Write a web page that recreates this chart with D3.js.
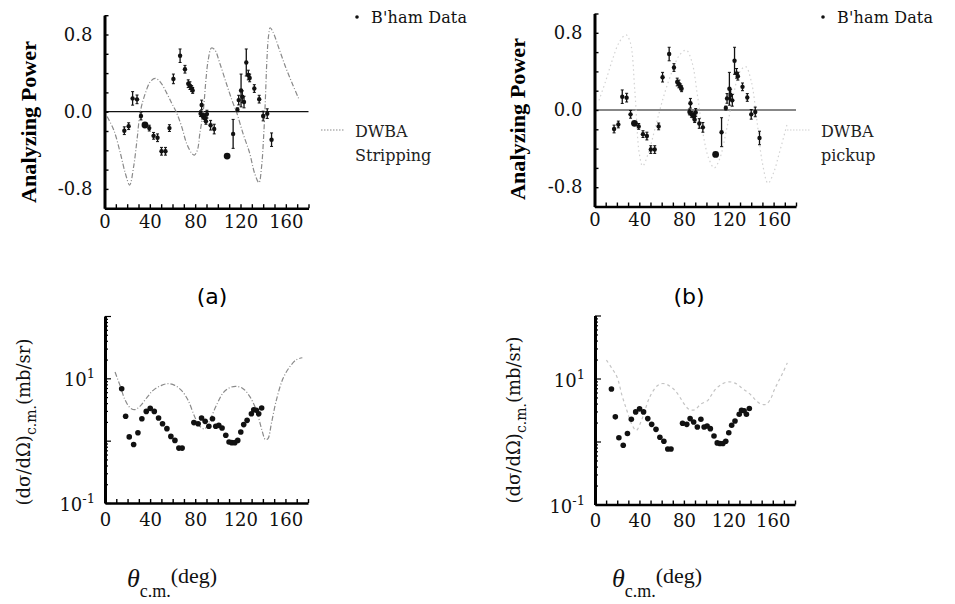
<!DOCTYPE html>
<html>
<head>
<meta charset="utf-8">
<script src="https://cdn.jsdelivr.net/npm/d3@7"></script>
<style>
  body { margin: 0; background: #fff; }
</style>
</head>
<body>
<script>
// B'ham data, analyzing power
const apAngle = [17.5, 21.3, 24.8, 28.7, 32.2, 35.7, 39.5, 43.3, 46.8, 50.3, 53.8, 57.3, 60.8, 66.7, 71.0,
  73.9, 75.4, 76.9, 77.8, 84.8, 85.7, 86.6, 88.0, 88.9, 89.5, 90.4, 93.6, 96.8, 108.2, 113.5,
  117.3, 118.4, 120.5, 121.6, 123.1, 125.1, 126.9, 128.1, 132.2, 136.5, 140.0, 143.6, 147.4];
const apValue = [-0.197, -0.15, 0.138, 0.128, -0.045, -0.138, -0.17, -0.25, -0.27, -0.41, -0.41, -0.17, 0.34, 0.58, 0.44,
  0.29, 0.27, 0.24, 0.22, -0.02, 0.07, -0.045, -0.05, -0.07, -0.10, -0.025, -0.14, -0.18, -0.46, -0.23,
  0.02, 0.12, 0.22, 0.155, 0.10, 0.51, 0.38, 0.35, 0.24, 0.13, -0.045, -0.02, -0.29];
const apError = [0.04, 0.035, 0.07, 0.045, 0.04, 0, 0.03, 0.035, 0.04, 0.04, 0.04, 0.035, 0.05, 0.07, 0.04,
  0.04, 0.04, 0.03, 0.03, 0.03, 0.05, 0.03, 0.03, 0.03, 0.03, 0.04, 0.05, 0.05, 0, 0.15,
  0.02, 0.05, 0.17, 0.06, 0.06, 0.14, 0.05, 0.04, 0.04, 0.04, 0.05, 0.05, 0.07];

// B'ham data, cross section (mb/sr)
const xsAngle = [14.8, 18.3, 21.5, 25.4, 29.2, 32.7, 36.6, 40.1, 43.7, 47.5, 51.0, 54.9, 58.4, 62.0, 65.5, 68.4,
  78.8, 82.6, 85.6, 88.8, 92.1, 95.3, 98.2, 100.9, 103.8, 107.1, 110.0, 112.4, 115.1, 117.7, 120.4,
  123.0, 126.0, 129.8, 131.9, 134.2, 136.3, 138.9];
const xsValue = [6.8, 2.46, 1.15, 0.87, 1.34, 2.25, 2.95, 3.3, 2.95, 2.31, 1.87, 1.56, 1.17, 1.01, 0.76, 0.76,
  1.95, 1.87, 2.31, 2.04, 1.70, 2.25, 1.70, 1.76, 1.60, 1.22, 0.95, 0.93, 0.93, 1.01, 1.38,
  1.81, 2.12, 2.71, 3.14, 3.07, 2.71, 3.34];

// DWBA stripping, analyzing power
const stripApAngle = [2.3, 8.2, 14.0, 18.4, 22.2, 25.7, 28.7, 31.6, 36.0, 40.4, 44.7, 49.1, 55.0, 59.4, 63.2,
  68.1, 72.5, 76.9, 79.2, 81.9, 84.2, 87.1, 89.5, 91.5, 94.4, 97.4, 101.8, 107.6, 113.5, 116.4,
  122.2, 128.1, 132.5, 136.3, 138.6, 140.4, 141.8, 143.3, 144.7, 146.2, 148.5, 154.4, 160.2, 166.1, 171.9];
const stripApValue = [-0.05, -0.19, -0.43, -0.64, -0.76, -0.57, -0.29, 0, 0.19, 0.31, 0.345, 0.31, 0.19, 0.086, 0,
  -0.155, -0.33, -0.43, -0.45, -0.40, -0.22, 0, 0.33, 0.535, 0.66, 0.64, 0.50, 0.29, 0.086, 0,
  -0.225, -0.43, -0.64, -0.735, -0.57, -0.26, 0.086, 0.535, 0.78, 0.87, 0.83, 0.64, 0.45, 0.28, 0.12];

// DWBA pickup, analyzing power
const pickApAngle = [4, 10, 16, 22, 28, 32, 36, 40, 43, 48, 55, 62, 70, 76, 82, 87, 92, 97, 102, 107,
  112, 118, 124, 130, 135, 140, 145, 150, 155, 160, 165, 172];
const pickApValue = [0.10, 0.30, 0.52, 0.70, 0.78, 0.70, 0.2, -0.45, -0.58, -0.45, -0.15, 0.15, 0.42, 0.57, 0.62, 0.50, 0.15, -0.25, -0.5, -0.6,
  -0.5, -0.2, 0.15, 0.4, 0.45, 0.3, -0.1, -0.55, -0.76, -0.65, -0.45, -0.15];

// DWBA stripping, cross section
const stripXsAngle = [8.9, 13.3, 17.7, 22.1, 26.5, 30.9, 36.8, 42.7, 50.1, 56.0, 61.9, 67.8, 73.7, 79.6, 84.1, 88.5,
  92.9, 98.8, 104.7, 110.6, 116.5, 122.4, 128.3, 134.2, 139.2, 142.2, 144.5, 147.5, 151.9, 157.8, 163.7, 169.7, 175.0];
const stripXsValue = [12.6, 7.7, 4.55, 3.39, 3.14, 3.55, 4.83, 6.41, 7.72, 8.2, 7.7, 6.4, 4.44, 2.4, 1.7, 1.55,
  2.12, 3.69, 5.82, 7.08, 7.45, 6.83, 5.13, 3.07, 1.47, 1.04, 1.08, 1.87, 4.44, 9.9, 15.2, 19.9, 21.4];

// DWBA pickup, cross section
const pickXsAngle = [10.3, 15.3, 19.8, 24.3, 28.7, 33, 37, 42, 48, 51, 55.5, 60, 64.4, 68.9, 71.9, 76, 80, 85, 90, 95,
  101.6, 104.6, 109, 115, 121, 126.9, 132.9, 138.8, 143.3, 146.3, 150, 154, 158.2, 161.2, 164.1, 168.7, 173.1];
const pickXsValue = [19.6, 14.4, 10.6, 5.4, 3.1, 1.9, 1.5, 2.2, 4.5, 5.8, 7.55, 8.3, 8.1, 7.2, 6.5, 5.2, 4.0, 3.2, 3.2, 3.9,
  4.5, 5.4, 6.9, 8.3, 8.85, 8.3, 6.9, 5.8, 4.8, 4.27, 3.9, 3.9, 4.8, 6.5, 8.3, 12, 17.7];

const xTicks = [0, 40, 80, 120, 160];
const apTicks = [-0.8, 0.0, 0.8];
const xsTicks = [0.1, 10];

const serif = "'DejaVu Serif', serif";
const times = "'Liberation Serif', serif";

const svg = d3.select("body").append("svg")
  .attr("width", 955)
  .attr("height", 604)
  .style("font-family", serif);

let xAxisOn = function (g, x, y0, pad) {
  g.append("g")
    .attr("transform", `translate(0,${y0})`)
    .call(d3.axisBottom(x).tickValues(d3.range(0, 181, 10)).tickSize(-4).tickSizeOuter(0).tickPadding(pad)
      .tickFormat(d => xTicks.includes(d) ? d : ""))
    .call(a => a.select(".domain").attr("stroke-width", 2.6))
    .call(a => a.selectAll(".tick line").attr("stroke-width", 1.4))
    .call(a => a.selectAll("text").attr("font-size", 18).attr("font-family", serif).attr("fill", "#111"));
};

let dataPoints = function (g, x, y, angle, value, err, r) {
  let pts = angle.map((a, i) => ({a: a, v: value[i], e: err ? err[i] : 0}));
  let eb = pts.filter(d => d.e > 0);
  g.selectAll(".eb").data(eb).join("line")
    .attr("x1", d => x(d.a)).attr("x2", d => x(d.a))
    .attr("y1", d => y(d.v - d.e)).attr("y2", d => y(d.v + d.e))
    .attr("stroke", "#111").attr("stroke-width", 1.3);
  g.selectAll(".capT").data(eb).join("line")
    .attr("x1", d => x(d.a) - 1.5).attr("x2", d => x(d.a) + 1.5)
    .attr("y1", d => y(d.v + d.e)).attr("y2", d => y(d.v + d.e))
    .attr("stroke", "#111").attr("stroke-width", 1);
  g.selectAll(".capB").data(eb).join("line")
    .attr("x1", d => x(d.a) - 1.5).attr("x2", d => x(d.a) + 1.5)
    .attr("y1", d => y(d.v - d.e)).attr("y2", d => y(d.v - d.e))
    .attr("stroke", "#111").attr("stroke-width", 1);
  g.selectAll(".pt").data(pts).join("circle")
    .attr("cx", d => x(d.a)).attr("cy", d => y(d.v))
    .attr("r", d => (err && d.e === 0) ? 3.4 : r)
    .attr("fill", "#111");
};

let curve = function (g, x, y, angle, value, color, dash) {
  let pts = angle.map((a, i) => [a, value[i]]);
  g.append("path").datum(pts)
    .attr("d", d3.line().x(d => x(d[0])).y(d => y(d[1])).curve(d3.curveCatmullRom))
    .attr("fill", "none")
    .attr("stroke", color)
    .attr("stroke-width", 1.2)
    .attr("stroke-dasharray", dash);
};

// analyzing power panel
let apPanel = function (p) {
  const x = d3.scaleLinear().domain([0, 180]).range([p.left, p.right]);
  const y = d3.scaleLinear().domain([-1, 1]).range([p.bottom, p.top]);
  const g = svg.append("g");

  g.append("line")
    .attr("x1", x(0)).attr("x2", x(180)).attr("y1", y(0)).attr("y2", y(0))
    .attr("stroke", "#111").attr("stroke-width", 1.2);

  curve(g, x, y, p.cA, p.cV, p.color, p.dash);

  g.append("g")
    .attr("transform", `translate(${p.left},0)`)
    .call(d3.axisLeft(y).tickValues(d3.range(-10, 11, 2).map(d => d / 10)).tickSize(-4).tickSizeOuter(0).tickPadding(12)
      .tickFormat(d => apTicks.some(t => Math.abs(t - d) < 1e-6) ? (d < -1e-6 ? "-" : "") + Math.abs(d).toFixed(1) : ""))
    .call(a => a.select(".domain").attr("stroke-width", 3))
    .call(a => a.selectAll(".tick line").attr("stroke-width", 1.4))
    .call(a => a.selectAll("text").attr("font-size", 18).attr("font-family", serif).attr("fill", "#111"));

  xAxisOn(g, x, p.bottom, 7);

  dataPoints(g, x, y, apAngle, apValue, apError, 2.2);

  g.append("text")
    .attr("transform", `translate(${p.labelX},${p.labelY}) rotate(-90)`)
    .attr("text-anchor", "middle")
    .attr("font-family", times)
    .attr("font-weight", "bold")
    .attr("font-size", 20)
    .attr("textLength", 162)
    .attr("lengthAdjust", "spacingAndGlyphs")
    .text("Analyzing  Power");

  // legend
  g.append("circle").attr("cx", p.legX).attr("cy", 17).attr("r", 1.8).attr("fill", "#111");
  g.append("text").attr("x", p.legX + 14).attr("y", 23)
    .attr("font-family", serif).attr("font-size", 16).attr("fill", "#111")
    .attr("textLength", 96).attr("lengthAdjust", "spacing").text("B'ham Data");
  g.append("line").attr("x1", p.legX - 36).attr("x2", p.legX - 12).attr("y1", 130).attr("y2", 130)
    .attr("stroke", p.color).attr("stroke-width", 1.2).attr("stroke-dasharray", "1.5,1.5");
  g.append("text").attr("x", p.legX - 2).attr("y", 137)
    .attr("font-family", serif).attr("font-size", 16).attr("fill", "#222").text("DWBA");
  g.append("text").attr("x", p.legX - 2).attr("y", 161)
    .attr("font-family", serif).attr("font-size", 16).attr("fill", "#222").text(p.name);

  g.append("text").attr("x", p.tagX).attr("y", 304).attr("text-anchor", "middle")
    .attr("font-family", "'DejaVu Sans', sans-serif").attr("font-size", 22).text(p.tag);
};

// cross section panel
let xsPanel = function (p) {
  const x = d3.scaleLinear().domain([0, 180]).range([p.left, p.right]);
  const y = d3.scaleLog().domain([0.1, 100]).range([p.bottom, p.top]);
  const g = svg.append("g");

  curve(g, x, y, p.cA, p.cV, p.color, p.dash);

  let minor = [];
  [0.1, 1, 10].forEach(dec => d3.range(1, 10).forEach(k => minor.push(k * dec)));
  minor.push(100);
  g.append("g")
    .attr("transform", `translate(${p.left},0)`)
    .call(d3.axisLeft(y).tickValues(minor).tickSizeOuter(0).tickFormat(""))
    .call(a => a.select(".domain").attr("stroke-width", 3))
    .call(a => a.selectAll(".tick line")
      .attr("x2", d => Math.abs(Math.log10(d) - Math.round(Math.log10(d))) < 1e-6 ? 6 : 3)
      .attr("stroke-width", 1.2));

  xsTicks.forEach(v => {
    let t = g.append("text")
      .attr("x", p.left - 10).attr("y", y(v) + 8)
      .attr("text-anchor", "end").attr("font-size", 18).attr("fill", "#111");
    t.append("tspan").text("10");
    t.append("tspan").attr("dy", -8).attr("font-size", 13).text(Math.round(Math.log10(v)));
  });

  xAxisOn(g, x, p.bottom, 10);

  dataPoints(g, x, y, xsAngle, xsValue, null, 2.8);

  let lab = g.append("text")
    .attr("transform", `translate(${p.labelX},${p.labelY}) rotate(-90)`)
    .attr("text-anchor", "middle")
    .attr("font-size", 18)
    .attr("fill", "#111");
  lab.append("tspan").text("(dσ/dΩ)");
  lab.append("tspan").attr("dy", 6).attr("font-size", 14).text("c.m.");
  lab.append("tspan").attr("dy", -6).text("(mb/sr)");

  let tl = g.append("text").attr("x", p.thetaX).attr("y", 587).attr("fill", "#111").attr("font-family", times);
  tl.append("tspan").attr("font-style", "italic").attr("font-size", 26).text("θ");
  tl.append("tspan").attr("dy", 10).attr("font-size", 18).text("c.m.");
  tl.append("tspan").attr("dy", -14).attr("font-size", 22).text("(deg)");
};

apPanel({left: 104.5, right: 308.5, bottom: 208.2, top: 15.2, cA: stripApAngle, cV: stripApValue,
  color: "#8a8a8a", dash: "5,2,1,2", labelX: 36, labelY: 122, legX: 357, name: "Stripping", tag: "(a)", tagX: 212});
apPanel({left: 594.5, right: 796, bottom: 206.5, top: 13.5, cA: pickApAngle, cV: pickApValue,
  color: "#d2d2d2", dash: "1.5,3", labelX: 525, labelY: 119, legX: 823, name: "pickup", tag: "(b)", tagX: 689});

xsPanel({left: 105, right: 308, bottom: 503, top: 316, cA: stripXsAngle, cV: stripXsValue,
  color: "#8a8a8a", dash: "5,2,1,2", labelX: 30, labelY: 422, thetaX: 127});
xsPanel({left: 595, right: 795, bottom: 504.5, top: 315.5, cA: pickXsAngle, cV: pickXsValue,
  color: "#c4c4c4", dash: "3,3", labelX: 520, labelY: 420, thetaX: 612});
</script>
</body>
</html>
